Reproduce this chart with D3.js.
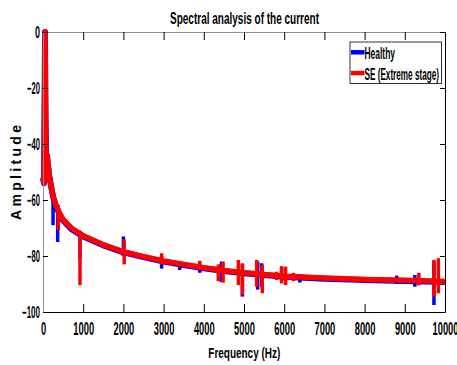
<!DOCTYPE html>
<html>
<head>
<meta charset="utf-8">
<script src="https://cdn.jsdelivr.net/npm/d3@7"></script>
<style>
  body { margin: 0; background: #fff; }
  text { font-family: "Liberation Sans Narrow", "Arial Narrow", "Liberation Sans", Arial, sans-serif; font-weight: bold; fill: #000; }
</style>
</head>
<body>
<svg id="chart" width="457" height="365"></svg>
<script>
// baseline of the spectrum (Hz, dB)
const freqBase = [0, 25, 40, 50, 60, 75, 100, 150, 200, 250, 300, 400, 500, 700, 1000, 1500, 2000, 2500, 3000, 3500, 4000, 4500, 5000, 6000, 7000, 8000, 9000, 10000];
const healthyBase = [-52, -54, -25, 0, -25, -45, -44, -51, -55, -58.8, -61.3, -64.8, -67.3, -70.3, -73, -76.2, -78.7, -80.4, -82, -83.2, -84.4, -85.4, -86.2, -87.4, -88.1, -88.6, -88.9, -89.3];
const seBase = [-52, -54, -25, 0, -25, -45, -44, -51, -55, -58.5, -61, -64.5, -67, -70, -72.8, -76, -78.5, -80.2, -81.8, -83, -84.2, -85.2, -86, -87.2, -87.9, -88.4, -88.7, -89.1];

// narrow spikes: [freq, top, bottom]
const healthySpikes = [[250, -57, -69], [365, -62, -75], [920, -71, -81], [2000, -73, -80], [2950, -80, -84.5], [3400, -82, -85], [3900, -83, -86], [4440, -82, -89.3], [4960, -83, -94.5], [5340, -82, -92], [5440, -82.6, -91], [5935, -84, -89], [6390, -86.5, -89.5], [8800, -87, -90], [9250, -86.8, -91], [9725, -82, -97.5]];
const seSpikes = [[380, -61.8, -70.7], [920, -71, -90.4], [2020, -74, -83], [2950, -79, -83], [3900, -81.7, -85], [4360, -83, -89], [4480, -82, -89.5], [4860, -81.4, -90.4], [4960, -82.6, -94], [5315, -81.4, -91], [5455, -83.2, -93.3], [5810, -85.6, -88.6], [5935, -83.6, -89.8], [6035, -83.8, -90.4], [6230, -86, -89], [9350, -86, -90.5], [9725, -81.4, -94.5], [9835, -80.8, -93.3]];

const xTicks = [0, 1000, 2000, 3000, 4000, 5000, 6000, 7000, 8000, 9000, 10000];
const yTicks = [-100, -80, -60, -40, -20, 0];
const seriesNames = ['Healthy', 'SE (Extreme stage)'];
const seriesColors = ['#0000ff', '#ff0000'];

const svg = d3.select('#chart');
const x = d3.scaleLinear().domain([0, 10000]).range([43, 445]);
const y = d3.scaleLinear().domain([-100, 0]).range([312, 32]);

// tall, narrow glyphs as in the reference: set width per label
function narrow(sel, digitW, minusW) {
  sel.each(function () {
    const s = d3.select(this).text();
    const n = s.replace('-', '').replace('−', '').length;
    const w = n * digitW + (s.length > n ? minusW : 0);
    d3.select(this).attr('textLength', w).attr('lengthAdjust', 'spacingAndGlyphs');
  });
}
function fit(sel, w) {
  sel.attr('textLength', w).attr('lengthAdjust', 'spacingAndGlyphs');
}

const line = d3.line().x(d => x(d[0])).y(d => y(d[1]));

function drawSeries(base, spikes, color, width) {
  const g = svg.append('g');
  g.append('path')
    .datum(freqBase.map((f, i) => [f, base[i]]))
    .attr('d', line)
    .attr('fill', 'none')
    .attr('stroke', color)
    .attr('stroke-width', width)
    .attr('stroke-linejoin', 'round');
  g.selectAll('path.spike')
    .data(spikes)
    .enter()
    .append('path')
    .attr('class', 'spike')
    .attr('d', d => line([[d[0], d[1]], [d[0], d[2]]]))
    .attr('stroke', color)
    .attr('stroke-width', 3.5);
}

drawSeries(healthyBase, healthySpikes, seriesColors[0], 6);
drawSeries(seBase, seSpikes, seriesColors[1], 5.5);

// axes (MATLAB style, ticks inward)
const gx = svg.append('g').attr('transform', 'translate(0,312)')
  .call(d3.axisBottom(x).tickValues(xTicks).tickSizeInner(-8).tickSizeOuter(0).tickPadding(10).tickFormat(d3.format('d')));
gx.selectAll('text').style('font-size', '18.5px').attr('fill', '#000').call(narrow, 5.2, 3);

svg.append('g').attr('transform', 'translate(0,32)')
  .call(d3.axisTop(x).tickValues(xTicks).tickSizeInner(-8).tickSizeOuter(0).tickFormat(''))
  .select('.domain').attr('stroke', '#8c8c8c');

const gy = svg.append('g').attr('transform', 'translate(43,0)')
  .call(d3.axisLeft(y).tickValues(yTicks).tickSizeInner(-5).tickSizeOuter(0).tickPadding(3).tickFormat(d3.format('d')));
gy.select('.domain').attr('stroke', '#8c8c8c');
gy.selectAll('text').style('font-size', '16.5px').attr('fill', '#000').call(narrow, 5, 3);

svg.append('g').attr('transform', 'translate(445,0)')
  .call(d3.axisRight(y).tickValues(yTicks).tickSizeInner(-5).tickSizeOuter(0).tickFormat(''));

svg.selectAll('.tick line').attr('stroke', '#000');

// title and axis labels
svg.append('text').attr('x', 244.5).attr('y', 23.5).attr('text-anchor', 'middle')
  .style('font-size', '17px').text('Spectral analysis of the current').call(fit, 149);
svg.append('text').attr('x', 244.3).attr('y', 358).attr('text-anchor', 'middle')
  .style('font-size', '15.5px').text('Frequency (Hz)').call(fit, 72);
svg.append('text').attr('transform', 'translate(21,172.5) rotate(-90)').attr('text-anchor', 'middle')
  .style('font-family', '"Liberation Sans", Arial, sans-serif').style('font-size', '14px')
  .text('Amplitude').attr('textLength', 95).attr('lengthAdjust', 'spacing');

// legend
const lg = svg.append('g');
lg.append('rect').attr('x', 350).attr('y', 42).attr('width', 91.5).attr('height', 41.5)
  .attr('fill', '#fff').attr('stroke', '#333').attr('stroke-width', 1);
const legendW = [30.5, 74.5];
seriesNames.forEach((name, i) => {
  const ly = 52.3 + i * 20.7;
  lg.append('line').attr('x1', 351).attr('x2', 364.5).attr('y1', ly).attr('y2', ly)
    .attr('stroke', seriesColors[i]).attr('stroke-width', 4.5);
  lg.append('text').attr('x', 364.5).attr('y', ly + 6.8).style('font-size', '16px')
    .text(name).call(fit, legendW[i]);
});
</script>
</body>
</html>
